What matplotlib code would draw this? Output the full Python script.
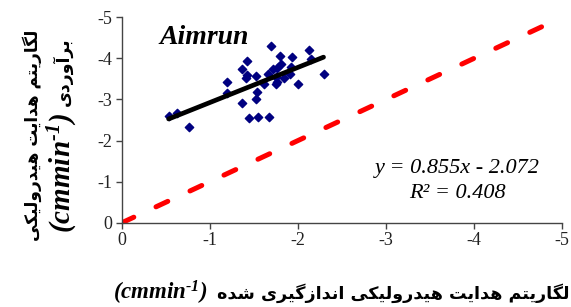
import matplotlib
matplotlib.use("Agg")
import matplotlib.pyplot as plt
import numpy as np

# measured vs estimated log hydraulic conductivity (Aimrun model)
measured = [-1.69, -2.12, -1.79, -1.93, -1.42, -1.36, -1.81, -1.76, -1.72, -1.92,
            -2.15, -2.29, -1.42, -1.41, -1.52, -1.66, -1.75, -1.84, -1.91, -1.75,
            -1.76, -1.61, -2.00, -1.19, -1.19, -1.53, -1.52, -1.36, -1.44, -1.54,
            -1.67, -0.53, -0.63, -0.76]
estimated = [-4.31, -4.20, -4.07, -4.04, -3.93, -3.73, -3.86, -3.76, -3.73, -3.80,
             -3.98, -3.61, -3.59, -3.53, -3.58, -3.61, -3.55, -3.53, -3.62, -3.37,
             -3.42, -3.38, -3.38, -3.42, -3.16, -3.17, -3.01, -2.92, -2.56, -2.58,
             -2.58, -2.60, -2.66, -2.34]
slope, intercept, r2 = 0.855, -2.072, 0.408
ticks = [0, -1, -2, -3, -4, -5]
model_name = "Aimrun"
xlabel_fa = "لگاریتم هدایت هیدرولیکی اندازگیری شده"
ylabel_fa1 = "لگاریتم هدایت هیدرولیکی"
ylabel_fa2 = "برآوردی"
unit = r"$\mathbf{(cmmin^{\text{-}1})}$"

# matplotlib has no arabic shaping, so pick presentation forms by hand
FORMS = {
    'ا': ('\uFE8D', '\uFE8E', None, None),
    'آ': ('\uFE81', '\uFE82', None, None),
    'ب': ('\uFE8F', '\uFE90', '\uFE91', '\uFE92'),
    'ت': ('\uFE95', '\uFE96', '\uFE97', '\uFE98'),
    'د': ('\uFEA9', '\uFEAA', None, None),
    'ر': ('\uFEAD', '\uFEAE', None, None),
    'ز': ('\uFEAF', '\uFEB0', None, None),
    'ش': ('\uFEB5', '\uFEB6', '\uFEB7', '\uFEB8'),
    'ک': ('\uFB8E', '\uFB8F', '\uFB90', '\uFB91'),
    'گ': ('\uFB92', '\uFB93', '\uFB94', '\uFB95'),
    'ل': ('\uFEDD', '\uFEDE', '\uFEDF', '\uFEE0'),
    'م': ('\uFEE1', '\uFEE2', '\uFEE3', '\uFEE4'),
    'ن': ('\uFEE5', '\uFEE6', '\uFEE7', '\uFEE8'),
    'و': ('\uFEED', '\uFEEE', None, None),
    'ه': ('\uFEE9', '\uFEEA', '\uFEEB', '\uFEEC'),
    'ی': ('\uFBFC', '\uFBFD', '\uFBFE', '\uFBFF'),
}


def fa(s):
    s = s.replace('ي', 'ی').replace('ك', 'ک')
    out = []
    for i, ch in enumerate(s):
        if ch not in FORMS:
            out.append(ch)
            continue
        prev = s[i - 1] if i > 0 else ''
        nxt = s[i + 1] if i + 1 < len(s) else ''
        iso, fin, ini, med = FORMS[ch]
        jp = prev in FORMS and FORMS[prev][2] is not None
        jn = ini is not None and nxt in FORMS
        if jp and jn:
            out.append(med)
        elif jp:
            out.append(fin)
        elif jn:
            out.append(ini)
        else:
            out.append(iso)
    return ''.join(reversed(out))


plt.rcParams['mathtext.fontset'] = 'custom'
plt.rcParams['mathtext.bf'] = 'Liberation Serif:bold:italic'
plt.rcParams['mathtext.rm'] = 'Liberation Serif:bold:italic'

fig = plt.figure(figsize=(5.71, 3.07), dpi=100)
ax = fig.add_axes([0.2137, 0.2746, 0.7705, 0.669])

ax.plot([0, -5], [0, -5], color='red', lw=3.6, ls=(0, (2.6, 4.9)),
        dash_capstyle='round', zorder=2)
ax.scatter(measured, estimated, marker='D', s=18, color='#000080', zorder=3)
xs = np.array([max(measured), min(measured)])
ax.plot(xs, slope * xs + intercept, color='black', lw=3.4,
        solid_capstyle='round', zorder=4)

ax.set_xlim(0, -5)
ax.set_ylim(0, -5)
ax.set_xticks(ticks)
ax.set_yticks(ticks)
ax.set_xticklabels([str(t) for t in ticks])
ax.set_yticklabels([str(t) for t in ticks])
for lab in ax.get_xticklabels() + ax.get_yticklabels():
    lab.set_fontfamily('Liberation Serif')
    lab.set_fontsize(13)
    lab.set_color('#222222')
ax.spines['top'].set_visible(False)
ax.spines['right'].set_visible(False)
for sp in ('left', 'bottom'):
    ax.spines[sp].set_color('#444444')
    ax.spines[sp].set_linewidth(1.0)
ax.tick_params(direction='out', length=4, width=1.0, color='#444444', pad=3)

ax.text(0.187, 0.90, model_name, transform=ax.transAxes, ha='center', va='center',
        family='Liberation Serif', fontsize=20, fontweight='bold', fontstyle='italic')
ax.text(0.763, 0.266, "y = %.3fx - %.3f" % (slope, -intercept), transform=ax.transAxes,
        ha='center', va='center', family='Liberation Serif', fontsize=16,
        fontstyle='italic')
ax.text(0.763, 0.14, "R² = %.3f" % r2, transform=ax.transAxes,
        ha='center', va='center', family='Liberation Serif', fontsize=16,
        fontstyle='italic')

# x axis title: persian on the right, unit to its left
tx = fig.text(0.9965, 0.046, fa(xlabel_fa), ha='right', va='center',
              family='DejaVu Sans', fontweight='bold', fontsize=12.6)
fig.canvas.draw()
ax.annotate(unit, xy=(0, 0.5), xycoords=tx, xytext=(-6, 0), textcoords='offset points',
            ha='right', va='center', fontsize=16.5, annotation_clip=False)

# y axis title, two rotated lines
fig.text(0.056, 0.56, fa(ylabel_fa1), rotation=90, ha='center', va='center',
         family='DejaVu Sans', fontweight='bold', fontsize=12.2)
ty = fig.text(0.110, 0.767, fa(ylabel_fa2), rotation=90, ha='center', va='center',
              family='DejaVu Sans', fontweight='bold', fontsize=12.5)
fig.canvas.draw()
ax.annotate(unit, xy=(0.5, 0), xycoords=ty, xytext=(0, -5), textcoords='offset points',
            rotation=90, ha='center', va='top', fontsize=21, annotation_clip=False)

fig.savefig("out.png", dpi=100)
